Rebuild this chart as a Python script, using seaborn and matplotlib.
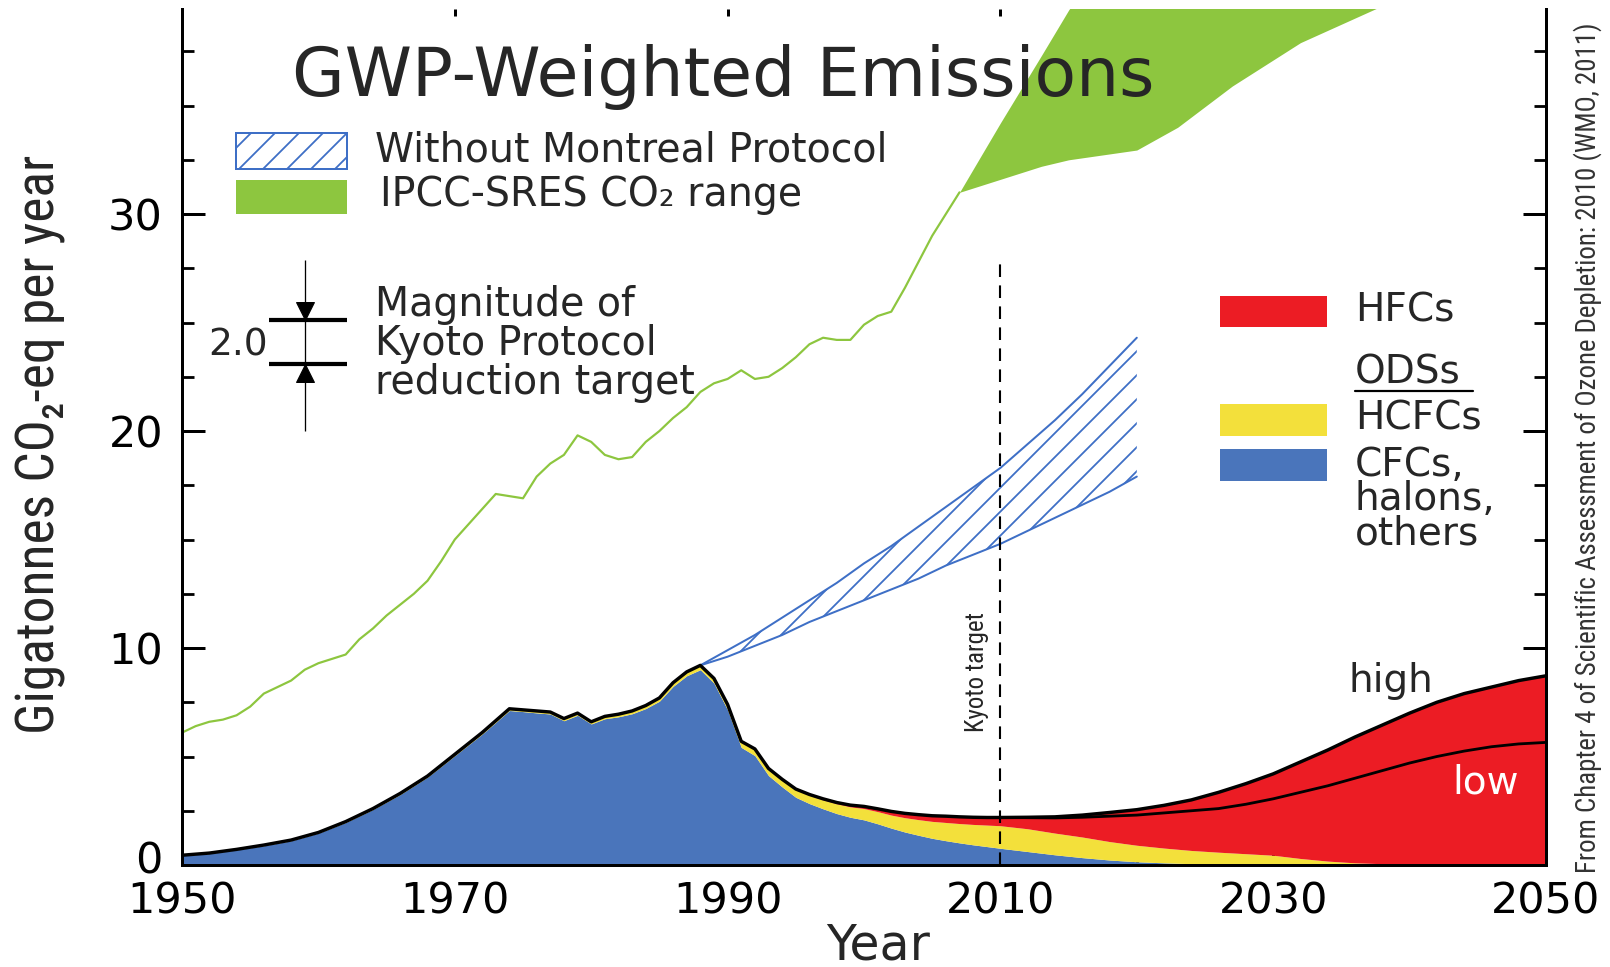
import numpy as np
import matplotlib
matplotlib.use("Agg")
import matplotlib.pyplot as plt
from matplotlib import font_manager as fm
from matplotlib.patches import Rectangle
from matplotlib.lines import Line2D
from matplotlib.transforms import ScaledTranslation
import seaborn as sns

# ---------------------------------------------------------------- data
years = [1950, 1952, 1954, 1956, 1958, 1960, 1962, 1964, 1966, 1968,
         1970, 1972, 1974, 1975, 1976, 1977, 1978, 1979, 1980, 1981,
         1982, 1983, 1984, 1985, 1986, 1987, 1988, 1989, 1990, 1991,
         1992, 1993, 1994, 1995, 1996, 1997, 1998, 1999, 2000, 2001,
         2002, 2003, 2004, 2005, 2006, 2007, 2008, 2009, 2010, 2012,
         2014, 2016, 2018, 2020, 2022, 2024, 2026, 2028, 2030, 2032,
         2034, 2036, 2038, 2040, 2042, 2044, 2046, 2048, 2050]

# CFCs, halons and other ODSs (GtCO2-eq / yr)
cfcs = [0.43, 0.53, 0.70, 0.89, 1.12, 1.47, 1.96, 2.56, 3.25, 4.05,
        5.04, 6.03, 7.12, 7.07, 7.01, 6.96, 6.65, 6.90, 6.50, 6.74,
        6.83, 6.97, 7.21, 7.55, 8.23, 8.72, 9.00, 8.38, 7.15, 5.42,
        5.04, 4.12, 3.60, 3.12, 2.83, 2.59, 2.37, 2.20, 2.08, 1.90,
        1.70, 1.52, 1.37, 1.23, 1.12, 1.02, 0.93, 0.85, 0.77, 0.62,
        0.47, 0.34, 0.23, 0.15, 0.10, 0.06, 0.04, 0.02, 0.01, 0.00,
        0.00, 0.00, 0.00, 0.00, 0.00, 0.00, 0.00, 0.00, 0.00]

hcfcs = [0.02, 0.02, 0.02, 0.03, 0.03, 0.03, 0.04, 0.04, 0.05, 0.05,
         0.06, 0.07, 0.08, 0.08, 0.09, 0.09, 0.10, 0.10, 0.10, 0.11,
         0.12, 0.13, 0.14, 0.15, 0.17, 0.18, 0.20, 0.22, 0.25, 0.27,
         0.30, 0.31, 0.33, 0.35, 0.38, 0.41, 0.45, 0.48, 0.52, 0.56,
         0.60, 0.66, 0.72, 0.78, 0.84, 0.89, 0.94, 0.99, 1.04, 1.05,
         1.00, 0.95, 0.85, 0.76, 0.68, 0.61, 0.55, 0.50, 0.44, 0.30,
         0.18, 0.10, 0.06, 0.04, 0.03, 0.02, 0.01, 0.01, 0.00]

hfcs_high = [0.00, 0.00, 0.00, 0.00, 0.00, 0.00, 0.00, 0.00, 0.00, 0.00,
             0.00, 0.00, 0.00, 0.00, 0.00, 0.00, 0.00, 0.00, 0.00, 0.00,
             0.00, 0.00, 0.00, 0.00, 0.00, 0.00, 0.00, 0.00, 0.00, 0.01,
             0.01, 0.02, 0.02, 0.03, 0.04, 0.05, 0.06, 0.08, 0.10, 0.13,
             0.17, 0.20, 0.23, 0.26, 0.29, 0.31, 0.33, 0.35, 0.38, 0.53,
             0.75, 1.01, 1.34, 1.64, 1.97, 2.33, 2.76, 3.23, 3.75, 4.45,
             5.12, 5.80, 6.39, 6.96, 7.47, 7.88, 8.19, 8.49, 8.72]

hfcs_low = [0.00, 0.00, 0.00, 0.00, 0.00, 0.00, 0.00, 0.00, 0.00, 0.00,
            0.00, 0.00, 0.00, 0.00, 0.00, 0.00, 0.00, 0.00, 0.00, 0.00,
            0.00, 0.00, 0.00, 0.00, 0.00, 0.00, 0.00, 0.00, 0.00, 0.01,
            0.01, 0.02, 0.02, 0.03, 0.04, 0.05, 0.06, 0.08, 0.10, 0.13,
            0.17, 0.20, 0.23, 0.26, 0.29, 0.31, 0.33, 0.35, 0.38, 0.51,
            0.70, 0.91, 1.17, 1.39, 1.62, 1.83, 2.01, 2.28, 2.60, 3.05,
            3.47, 3.90, 4.29, 4.66, 4.97, 5.23, 5.44, 5.57, 5.65]

# Fossil CO2 emissions
co2_years = list(range(1950, 2008))
co2 = [6.1, 6.4, 6.6, 6.7, 6.9, 7.3, 7.9, 8.2, 8.5, 9.0,
       9.3, 9.5, 9.7, 10.4, 10.9, 11.5, 12.0, 12.5, 13.1, 14.0,
       15.0, 15.7, 16.4, 17.1, 17.0, 16.9, 17.9, 18.5, 18.9, 19.8,
       19.5, 18.9, 18.7, 18.8, 19.5, 20.0, 20.6, 21.1, 21.8, 22.2,
       22.4, 22.8, 22.4, 22.5, 22.9, 23.4, 24.0, 24.3, 24.2, 24.2,
       24.9, 25.3, 25.5, 26.6, 27.8, 29.0, 30.0, 31.0]

# IPCC-SRES CO2 range
sres_years = [2007, 2010, 2013, 2015, 2020, 2023, 2027, 2032, 2038, 2045, 2050]
sres_low = [31.0, 31.6, 32.2, 32.5, 32.95, 34.0, 35.9, 37.9, 39.6, 42.0, 44.0]
sres_high = [31.0, 34.2, 37.3, 39.4, 44.0, 47.0, 51.0, 56.0, 62.0, 70.0, 75.0]

# ODS emissions without the Montreal Protocol
wmp_years = [1988, 1990, 1992, 1994, 1996, 1998, 2000, 2002, 2004,
             2006, 2008, 2010, 2012, 2014, 2016, 2018, 2020]
wmp_high = [9.2, 9.9, 10.6, 11.4, 12.2, 13.0, 13.9, 14.7, 15.6,
            16.5, 17.4, 18.3, 19.4, 20.5, 21.7, 23.0, 24.3]
wmp_low = [9.2, 9.6, 10.1, 10.6, 11.2, 11.7, 12.2, 12.7, 13.2,
           13.8, 14.3, 14.8, 15.4, 16.0, 16.6, 17.2, 17.9]

kyoto_year = 2010
kyoto_reduction = 2.0

x_ticks = [1950, 1970, 1990, 2010, 2030, 2050]
y_ticks = [0, 10, 20, 30]

# ---------------------------------------------------------------- style
BLUE = "#4a75bb"
YELLOW = "#f3e03b"
RED = "#ec1c24"
GREEN = "#8dc63f"
HATCH_BLUE = "#3e6fc6"

# 72 dpi: one point equals one pixel, so sizes below are pixel sizes
DPI = 72
W, H = 1610, 967

sns.set_theme(style="ticks")
plt.rcParams.update({
    "font.family": ["DejaVu Sans"],
    "axes.linewidth": 3.0,
    "hatch.linewidth": 1.8,
    "axes.edgecolor": "black",
    "xtick.color": "black",
    "ytick.color": "black",
})


def condensed_font():
    """Return text kwargs for a condensed sans face if one is installed."""
    prefs = ["Liberation Sans Narrow", "Arial Narrow", "Roboto Condensed",
             "Open Sans Condensed", "Noto Sans Condensed",
             "DejaVu Sans Condensed", "Nimbus Sans Narrow"]
    names = {f.name for f in fm.fontManager.ttflist}
    for p in prefs:
        if p in names:
            return {"family": [p, "DejaVu Sans"]}
    for wanted in ("condensed", "semi-condensed"):
        for f in fm.fontManager.ttflist:
            if (str(f.stretch) == wanted and f.style == "normal"
                    and f.weight in (400, "normal", "regular", "book")):
                return {"family": [f.name, "DejaVu Sans"], "fontstretch": wanted}
    return {"family": ["DejaVu Sans"]}


NARROW = condensed_font()

fig = plt.figure(figsize=(W / DPI, H / DPI), dpi=DPI)
fig.patch.set_facecolor("white")


def fx(px):
    return px / W


def fy(py):
    return 1 - py / H


ax = fig.add_axes([fx(182), fy(865), (1546 - 182) / W, (865 - 9) / H])
ax.set_facecolor("white")
ax.set_xlim(1950, 2050)
ax.set_ylim(0, 39.45)

yrs = np.array(years, dtype=float)
blue_top = np.array(cfcs)
yellow_top = blue_top + np.array(hcfcs)
total_high = yellow_top + np.array(hfcs_high)
total_low = yellow_top + np.array(hfcs_low)

# IPCC-SRES band and historical CO2
ax.fill_between(sres_years, sres_low, sres_high, color=GREEN, lw=0, zorder=1)
sns.lineplot(x=co2_years, y=co2, color=GREEN, lw=2.2, ax=ax, zorder=2)

# stacked ODS / HFC emissions
ax.fill_between(yrs, 0, blue_top, color=BLUE, lw=0, zorder=2)
ax.fill_between(yrs, blue_top, yellow_top, color=YELLOW, lw=0, zorder=2)
ax.fill_between(yrs, yellow_top, total_high, color=RED, lw=0, zorder=2)
sns.lineplot(x=yrs, y=total_high, color="black", lw=3.4, ax=ax, zorder=4)
future = yrs >= kyoto_year
sns.lineplot(x=yrs[future], y=total_low[future], color="black", lw=2.8,
             ax=ax, zorder=4)

# scenario without the Montreal Protocol
ax.fill_between(wmp_years, wmp_low, wmp_high, facecolor="none",
                edgecolor=HATCH_BLUE, hatch="/", lw=0, zorder=3)
sns.lineplot(x=wmp_years, y=wmp_high, color=HATCH_BLUE, lw=2.0, ax=ax, zorder=3)
sns.lineplot(x=wmp_years, y=wmp_low, color=HATCH_BLUE, lw=2.0, ax=ax, zorder=3)

# Kyoto target year
ax.vlines(kyoto_year, 0, 27.9, colors="black", lw=2.1,
          linestyles=(0, (6, 4)), zorder=5)
kyoto_label = ax.text(2008.3, 8.9, "Kyoto target", rotation=90, ha="center",
                      va="center", fontsize=26, zorder=6, **NARROW)

# magnitude of the Kyoto reduction target
bar_top = 25.1
bar_bottom = bar_top - kyoto_reduction
ax.vlines(1959.0, 20.0, 27.9, colors="black", lw=1.3, zorder=5)
ax.hlines([bar_top, bar_bottom], 1956.4, 1962.1, colors="black", lw=4.2, zorder=5)
ax.plot([1959.0], [bar_top + 0.42], marker="v", ms=18, color="black", zorder=6)
ax.plot([1959.0], [bar_bottom - 0.42], marker="^", ms=18, color="black", zorder=6)

# scenario labels
ax.text(2038.6, 8.5, "high", ha="center", va="center", fontsize=39, zorder=6)
ax.text(2045.6, 3.8, "low", ha="center", va="center", fontsize=39,
        color="white", zorder=6)

# ---------------------------------------------------------------- axes
ax.set_xticks(x_ticks)
ax.set_xticks(np.arange(1960, 2050, 10), minor=True)
ax.set_yticks(y_ticks)
ax.set_yticks(np.arange(0, 39, 2.5), minor=True)
ax.set_xticklabels([str(v) for v in x_ticks])
ax.set_yticklabels([str(v) for v in y_ticks])
ax.tick_params(axis="x", which="major", direction="in", length=15, width=3.0,
               labelsize=43, pad=16, top=False)
ax.tick_params(axis="x", which="minor", direction="in", length=7, width=2.8,
               top=False)
ax.tick_params(axis="y", which="major", direction="in", length=23, width=3.0,
               labelsize=43, pad=19, right=True)
ax.tick_params(axis="y", which="minor", direction="in", length=12, width=2.8,
               right=True)
ax.spines["top"].set_visible(False)
for side in ("left", "right", "bottom"):
    ax.spines[side].set_linewidth(3.0)
    ax.spines[side].set_zorder(7)
ax.set_xlabel("")
ax.set_ylabel("")

# lift the "0" label a little off the baseline
zero_label = ax.yaxis.get_major_ticks()[0].label1
zero_label.set_transform(zero_label.get_transform()
                         + ScaledTranslation(0, 8 / DPI, fig.dpi_scale_trans))

top_axis = ax.secondary_xaxis("top")
top_axis.set_xticks([1970, 1990, 2010, 2030])
top_axis.tick_params(direction="in", length=7, width=3.0, labeltop=False)
top_axis.spines["top"].set_visible(False)

# ---------------------------------------------------------------- texts
fig.text(fx(723), fy(77), "GWP-Weighted Emissions", fontsize=68,
         ha="center", va="center")
fig.text(fx(878), fy(945), "Year", fontsize=49, ha="center", va="center")
ylabel = fig.text(fx(41), fy(444), "Gigatonnes CO\u2082-eq per year",
                  rotation=90, fontsize=50, ha="center", va="center", **NARROW)
source = fig.text(fx(1588), fy(448),
                  "From Chapter 4 of Scientific Assessment of Ozone Depletion: "
                  "2010 (WMO, 2011)",
                  rotation=90, fontsize=26, color="#333333",
                  ha="center", va="center", **NARROW)

# left legend
fig.add_artist(Rectangle((fx(236), fy(169)), 111 / W, 36 / H,
                         transform=fig.transFigure, facecolor="white",
                         edgecolor=HATCH_BLUE, hatch="/", lw=2.0))
fig.add_artist(Rectangle((fx(236), fy(214)), 111 / W, 34 / H,
                         transform=fig.transFigure, facecolor=GREEN, lw=0))
fig.text(fx(375), fy(151), "Without Montreal Protocol", fontsize=39.5,
         ha="left", va="center")
fig.text(fx(380), fy(195), "IPCC-SRES CO\u2082 range", fontsize=39.5,
         ha="left", va="center")

# Kyoto magnitude caption
fig.text(fx(238), fy(345), "2.0", fontsize=37.5, ha="center", va="center")
fig.text(fx(375), fy(344), "Magnitude of\nKyoto Protocol\nreduction target",
         fontsize=39.5, linespacing=0.98, ha="left", va="center")

# right legend
for color, top, bottom in ((RED, 296, 327), (YELLOW, 404, 436), (BLUE, 449, 481)):
    fig.add_artist(Rectangle((fx(1220), fy(bottom)), 107 / W, (bottom - top) / H,
                             transform=fig.transFigure, facecolor=color, lw=0))
for label, ypix in (("HFCs", 311), ("ODSs", 372), ("HCFCs", 419)):
    fig.text(fx(1355), fy(ypix), label, fontsize=39, ha="left", va="center")
fig.text(fx(1355), fy(499), "CFCs,\nhalons,\nothers", fontsize=39,
         linespacing=0.88, ha="left", va="center")
fig.add_artist(Line2D([fx(1355), fx(1473)], [fy(391), fy(391)],
                      transform=fig.transFigure, color="black", lw=2.2))

# size the rotated labels to their lengths along the page
renderer = fig.canvas.get_renderer()
for txt, length in ((ylabel, 580), (source, 850), (kyoto_label, 120)):
    for _ in range(2):
        span = txt.get_window_extent(renderer).height
        txt.set_fontsize(txt.get_fontsize() * length / span)

fig.savefig("out.png", dpi=DPI, facecolor="white")
